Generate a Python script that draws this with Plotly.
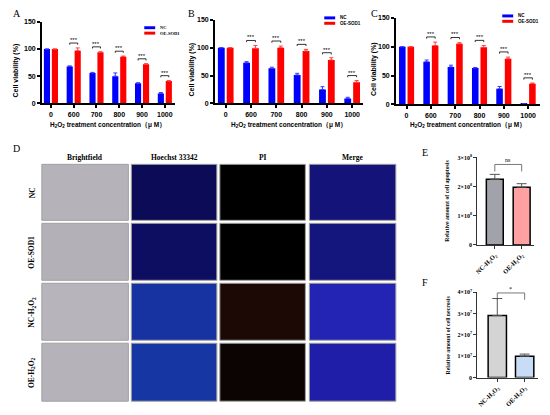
import plotly.graph_objects as go

# the page body keeps its default 8px margin, so the figure is 8px smaller
# and every reference pixel position is shifted by that margin
PAD = 8
W, H = 550 - PAD, 415 - PAD

# ---- data ----
conc = ['0', '600', '700', '800', '900', '1000']

a_nc = [100, 68, 56, 50, 37, 18]
a_nc_err = [0, 1, 1, 6, 1, 2]
a_oe = [100, 97, 94, 86, 72, 41]
a_oe_err = [0, 5, 1, 1, 1, 1]

b_nc = [100, 73, 63, 51, 25, 9]
b_nc_err = [0, 2, 2, 3, 5, 2]
b_oe = [100, 99, 100, 94, 78, 38]
b_oe_err = [0, 5, 3, 3, 4, 3]

c_nc = [100, 74, 65, 63, 27, 1]
c_nc_err = [0, 3, 3, 1, 4, 0]
c_oe = [100, 102, 105, 99, 79, 36]
c_oe_err = [0, 6, 2, 3, 3, 1]

groups = ['NC-H<sub>2</sub>O<sub>2</sub>', 'OE-H<sub>2</sub>O<sub>2</sub>']
apoptosis = [2.25e8, 1.98e8]
apoptosis_err = [0.17e8, 0.12e8]
necrosis = [2.9e7, 1.0e7]
necrosis_err = [0.8e7, 0.1e7]

img_cols = ['Brightfield', 'Hoechst 33342', 'PI', 'Merge']
img_rows = ['NC', 'OE-SOD1', 'NC-H<sub>2</sub>O<sub>2</sub>', 'OE-H<sub>2</sub>O<sub>2</sub>']


def px(x):
    return max(x - PAD, 0) / W


def py(y):
    return 1 - (y - PAD) / H


SANS = 'Liberation Sans'
SERIF = 'Liberation Serif'

fig = go.Figure()
shapes = []
annos = []


def label(x, y, text, font, angle=0, xanchor='center', yanchor='middle'):
    annos.append(dict(x=px(x), y=py(y), xref='paper', yref='paper', text=text, textangle=angle,
                      showarrow=False, xanchor=xanchor, yanchor=yanchor, font=font))


def f(family, size, bold=True):
    return dict(family=family, size=size, color='black', weight='bold' if bold else 'normal')


# ---- A, B, C: cell viability ----
panels = [
    # letter, nc, nc_err, oe, oe_err, x px, y px, x range, ytitle x, legend (x, y), legend font, letter pos
    ('A', a_nc, a_nc_err, a_oe, a_oe_err, (39, 173), (18, 101), (-0.4, 5.45), 14, (142, 24), SERIF, (8, 10)),
    ('B', b_nc, b_nc_err, b_oe, b_oe_err, (213, 362), (16, 101), (-0.43, 5.43), 191, (323, 14), SANS, (184, 10)),
    ('C', c_nc, c_nc_err, c_oe, c_oe_err, (395, 540), (14, 102), (-0.44, 5.49), 373, (502, 12), SANS, (368, 10)),
]

bw = 0.27
off_nc, off_oe = -0.31, 0.04
for k, (letter, nc, nce, oe, oee, xr, yr, xrange_, ytx, leg, legfont, lp) in enumerate(panels):
    sfx = '' if k == 0 else str(k + 1)
    xa, ya = 'x' + sfx, 'y' + sfx
    xs = list(range(len(conc)))
    fig.add_trace(go.Bar(x=xs, y=nc, width=bw, offset=off_nc, marker=dict(color='#0000ff', line_width=0),
                         error_y=dict(type='data', array=nce, arrayminus=[0] * len(nce), symmetric=False,
                                      color='#3a3aff', thickness=1, width=2),
                         xaxis=xa, yaxis=ya, showlegend=False, hoverinfo='skip'))
    fig.add_trace(go.Bar(x=xs, y=oe, width=bw, offset=off_oe, marker=dict(color='#ff0000', line_width=0),
                         error_y=dict(type='data', array=oee, arrayminus=[0] * len(oee), symmetric=False,
                                      color='#ff4040', thickness=1, width=2),
                         xaxis=xa, yaxis=ya, showlegend=False, hoverinfo='skip'))
    # significance brackets
    bx, by = [], []
    for i in range(1, len(conc)):
        h = max(nc[i] + nce[i], oe[i] + oee[i]) + 9
        x1 = i + off_nc + bw / 2
        x2 = i + off_oe + bw / 2
        bx += [x1, x1, x2, x2, None]
        by += [h - 3, h, h, h - 3, None]
        annos.append(dict(x=(x1 + x2) / 2, y=h, xref=xa, yref=ya, text='***', showarrow=False,
                          xanchor='center', yanchor='bottom', yshift=-2, font=f(SANS, 6, False)))
    fig.add_trace(go.Scatter(x=bx, y=by, mode='lines', line=dict(color='black', width=0.8),
                             xaxis=xa, yaxis=ya, showlegend=False, hoverinfo='skip'))
    axis_common = dict(showline=True, linecolor='black', linewidth=1.5, ticks='outside', ticklen=3,
                       tickwidth=1.5, tickcolor='black', showgrid=False, zeroline=False,
                       tickfont=f(SANS, 7))
    fig.layout['xaxis' + sfx] = dict(domain=[px(xr[0]), px(xr[1])], range=list(xrange_), anchor=ya,
                                     tickvals=xs, ticktext=conc, **axis_common)
    fig.layout['yaxis' + sfx] = dict(domain=[py(yr[1]), py(yr[0])], range=[0, 150], anchor=xa,
                                     tickvals=[0, 50, 100, 150], **axis_common)
    label(ytx, (yr[0] + yr[1]) / 2 + 8, 'Cell viability (%)', f(SANS, 7), angle=-90)
    label((xr[0] + xr[1]) / 2, 123, 'H<sub>2</sub>O<sub>2</sub> treatment concentration（μ M）', f(SANS, 6.5))
    label(lp[0], lp[1], letter, f(SERIF, 10, False), xanchor='left')
    # legend
    for j, (name, col) in enumerate([('NC', '#0000ff'), ('OE-SOD1', '#ff0000')]):
        yy = leg[1] + j * 5.5
        shapes.append(dict(type='rect', xref='paper', yref='paper', x0=px(leg[0]), x1=px(leg[0] + 11),
                           y0=py(yy + 1.5), y1=py(yy - 1.5), fillcolor=col, line_width=0))
        label(leg[0] + 14, yy, name, f(legfont, 4.5), xanchor='left')

# ---- D: image grid (placeholders) ----
col_x = [(39, 126), (129, 215), (218, 304), (308, 395)]
row_y = [(163, 220), (223, 281), (284, 342), (345, 404)]
fills = [
    ['#b6b2ba', '#0b0b58', '#000000', '#13137a'],
    ['#b4b0b8', '#0d0d62', '#000000', '#15157e'],
    ['#b8b4bc', '#1733a2', '#1c0905', '#2424b4'],
    ['#b6b2ba', '#1636a4', '#0b0403', '#1e1ea8'],
]
for r, (y0, y1) in enumerate(row_y):
    for c, (x0, x1) in enumerate(col_x):
        shapes.append(dict(type='rect', xref='paper', yref='paper', x0=px(x0), x1=px(x1),
                           y0=py(y1), y1=py(y0), fillcolor=fills[r][c],
                           line=dict(color='#a0a0a0', width=1)))
    label(29, (y0 + y1) / 2, img_rows[r], f(SERIF, 7.5), angle=-90)
for c, (x0, x1) in enumerate(col_x):
    label((x0 + x1) / 2, 156, img_cols[c], f(SERIF, 7.5))
label(8, 147, 'D', f(SERIF, 10, False), xanchor='left')

# ---- E, F: apoptosis / necrosis ----
small = [
    # letter, vals, err, colours, x px, y px, x range, ymax, tickvals, ticktext, title, sig, bracket level, width, letter pos
    ('E', apoptosis, apoptosis_err, ['#a2a2aa', '#ffa0a2'], (477, 534), (156, 245), (-0.648, 1.463),
     3e8, [0, 1e8, 2e8, 3e8], ['0', '1×10<sup>8</sup>', '2×10<sup>8</sup>', '3×10<sup>8</sup>'],
     'Relative amount of cell apoptosis', 'ns', 0.92, 0.63, (419, 151)),
    ('F', necrosis, necrosis_err, ['#d4d4d4', '#c8dcf8'], (477, 538), (293, 380), (-0.727, 1.49),
     4e7, [0, 1e7, 2e7, 3e7, 4e7],
     ['0', '1×10<sup>7</sup>', '2×10<sup>7</sup>', '3×10<sup>7</sup>', '4×10<sup>7</sup>'],
     'Relative amount of cell necrosis', '*', 0.99, 0.67, (419, 283)),
]
for k, (letter, vals, err, cols, xr, yr, xrange_, ymax, tv, tt, title, sig, lvl, w, lp) in enumerate(small):
    sfx = str(k + 4)
    xa, ya = 'x' + sfx, 'y' + sfx
    xs = list(range(len(groups)))
    fig.add_trace(go.Bar(x=xs, y=vals, width=w, marker=dict(color=cols, line=dict(color='black', width=1.5)),
                         error_y=dict(type='data', array=err, arrayminus=[0] * len(err), symmetric=False,
                                      color='#555555', thickness=1, width=5),
                         xaxis=xa, yaxis=ya, showlegend=False, hoverinfo='skip'))
    h = ymax * lvl
    fig.add_trace(go.Scatter(x=[0, 0, 1, 1], y=[h - ymax * 0.08, h, h, h - ymax * 0.08], mode='lines',
                             line=dict(color='#555555', width=0.8), xaxis=xa, yaxis=ya,
                             showlegend=False, hoverinfo='skip'))
    annos.append(dict(x=0.5, y=h, xref=xa, yref=ya, text=sig, showarrow=False, xanchor='center',
                      yanchor='bottom', yshift=-1, font=f(SERIF, 6, False)))
    axis_common = dict(showline=True, linecolor='#333333', linewidth=1.2, ticks='outside', ticklen=3,
                       tickwidth=1.2, tickcolor='#333333', showgrid=False, zeroline=False)
    fig.layout['xaxis' + sfx] = dict(domain=[px(xr[0]), px(xr[1])], range=list(xrange_), anchor=ya,
                                     tickvals=xs, ticktext=groups, tickangle=-45,
                                     tickfont=f(SERIF, 6.5), **axis_common)
    fig.layout['yaxis' + sfx] = dict(domain=[py(yr[1]), py(yr[0])], range=[0, ymax], anchor=xa,
                                     tickvals=tv, ticktext=tt, tickfont=f(SERIF, 6), **axis_common)
    label(447, (yr[0] + yr[1]) / 2, title, f(SERIF, 5.8), angle=-90)
    label(lp[0], lp[1], letter, f(SERIF, 10, False), xanchor='left')

fig.update_layout(width=W, height=H, margin=dict(l=0, r=0, t=0, b=0), barmode='overlay',
                  plot_bgcolor='white', paper_bgcolor='white', shapes=shapes, annotations=annos)
fig.write_html("out.html")
